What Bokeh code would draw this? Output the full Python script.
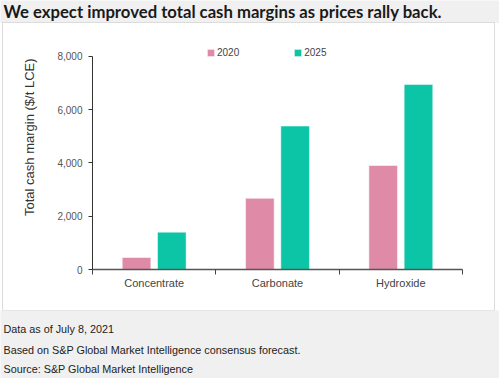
import math
from bokeh.plotting import figure
from bokeh.layouts import column, row
from bokeh.models import (Range1d, FixedTicker, NumeralTickFormatter, Label,
                          Legend, LegendItem, ColumnDataSource, Spacer)
from bokeh.transform import dodge
from bokeh.embed import file_html
from bokeh.resources import INLINE

# ---- data ----
categories = ["Concentrate", "Carbonate", "Hydroxide"]
values_2020 = [450, 2670, 3900]
values_2025 = [1400, 5380, 6940]
series_names = ["2020", "2025"]
y_ticks = [0, 2000, 4000, 6000, 8000]

title_text = "We expect improved total cash margins as prices rally back."
y_label = "Total cash margin ($/t LCE)"
footer_lines = ["Data as of July 8, 2021",
                "Based on S&P Global Market Intelligence consensus forecast.",
                "Source: S&P Global Market Intelligence"]

# ---- styles ----
PINK = "#df8ba8"
TEAL = "#0bc5a6"
BG = "#f0f0f0"
FONT = "Liberation Sans"
W = 499
PANEL_H = 287
LAB_W = 40


def text_strip(width, height, bg):
    f = figure(width=width, height=height, output_backend="svg",
               toolbar_location=None, x_range=Range1d(0, width),
               y_range=Range1d(height, 0), x_axis_location=None,
               y_axis_location=None, min_border=0)
    f.background_fill_color = bg
    f.border_fill_color = bg
    f.outline_line_color = None
    f.grid.visible = False
    return f


# ---- title strip ----
t = text_strip(W, 23, BG)
t.add_layout(Label(x=3, y=11.5, text=title_text, text_baseline="middle",
                   text_font="Lato", text_font_size="16.7px",
                   text_font_style="bold", text_color="#1a1a1a"))

# ---- y axis title strip (left part of the white panel) ----
lab = text_strip(LAB_W, PANEL_H, "white")
lab.add_layout(Label(x=26, y=120.5, text=y_label, angle=math.pi / 2,
                     text_align="center", text_baseline="middle",
                     text_font=FONT, text_font_size="13px",
                     text_color="#333333"))

# ---- main chart ----
src = ColumnDataSource(dict(
    x=[i + 0.5 for i in range(len(categories))],
    v2020=values_2020,
    v2025=values_2025,
))

# the frame reaches a little above 8,000 so that the legend fits inside it;
# the y axis line itself is bounded to 0..8,000
p = figure(width=491 - LAB_W, height=PANEL_H, output_backend="svg",
           toolbar_location=None,
           x_range=Range1d(0, len(categories)), y_range=Range1d(0, 8550),
           min_border_left=89 - LAB_W, min_border_right=32, min_border_top=18,
           min_border_bottom=41)
p.background_fill_color = "white"
p.border_fill_color = "white"
p.outline_line_color = None
p.grid.visible = False

r1 = p.vbar(x=dodge("x", -0.143, range=p.x_range), top="v2020", width=0.232,
            source=src, fill_color=PINK, line_color="white", line_alpha=0.5,
            line_width=1)
r2 = p.vbar(x=dodge("x", 0.143, range=p.x_range), top="v2025", width=0.232,
            source=src, fill_color=TEAL, line_color="white", line_alpha=0.5,
            line_width=1)

# x axis
xa = p.xaxis[0]
xa.ticker = FixedTicker(ticks=[i + 0.5 for i in range(len(categories))],
                        minor_ticks=list(range(len(categories) + 1)))
xa.major_label_overrides = {i + 0.5: c for i, c in enumerate(categories)}
xa.major_tick_line_color = None
xa.major_tick_out = 0
xa.major_tick_in = 0
xa.minor_tick_out = 5
xa.minor_tick_in = 0
xa.minor_tick_line_color = "#444444"
xa.axis_line_color = "#555555"
xa.axis_line_width = 1.5
xa.major_label_text_font = FONT
xa.major_label_text_font_size = "11px"
xa.major_label_text_color = "#444444"
xa.major_label_standoff = 2

# y axis
ya = p.yaxis[0]
ya.ticker = FixedTicker(ticks=y_ticks)
ya.bounds = (y_ticks[0], y_ticks[-1])
ya.formatter = NumeralTickFormatter(format="0,0")
ya.minor_tick_line_color = None
ya.major_tick_out = 4
ya.major_tick_in = 0
ya.major_tick_line_color = "#333333"
ya.axis_line_color = "#333333"
ya.major_label_text_font = FONT
ya.major_label_text_font_size = "10px"
ya.major_label_text_color = "#555555"
ya.major_label_standoff = 6

# legend
legend = Legend(items=[LegendItem(label=series_names[0], renderers=[r1]),
                       LegendItem(label=series_names[1], renderers=[r2])],
                orientation="horizontal", location=(114, 211),
                glyph_width=9, glyph_height=9, label_standoff=2, spacing=54,
                padding=0, margin=0, label_height=10,
                label_text_font=FONT, label_text_font_size="10px",
                label_text_color="#444444", border_line_color=None,
                background_fill_alpha=0)
p.add_layout(legend)

panel = row(lab, p, spacing=0, styles={"box-shadow": "0 0 0 1px #dcdcdc"})
main_row = row(Spacer(width=3, height=PANEL_H), panel,
               Spacer(width=5, height=PANEL_H), spacing=0)

# ---- footer strip ----
f = text_strip(W, 68, BG)
for line, yc in zip(footer_lines, [18.5, 39.0, 58.5]):
    f.add_layout(Label(x=3, y=yc, text=line, text_baseline="middle",
                       text_font=FONT, text_font_size="10.8px",
                       text_color="#222222"))

layout = column(t, main_row, f, spacing=0)

html = file_html(layout, INLINE)
html = html.replace("<body>", '<body style="background-color:%s">' % BG, 1)
open("out.html", "w").write(html)
